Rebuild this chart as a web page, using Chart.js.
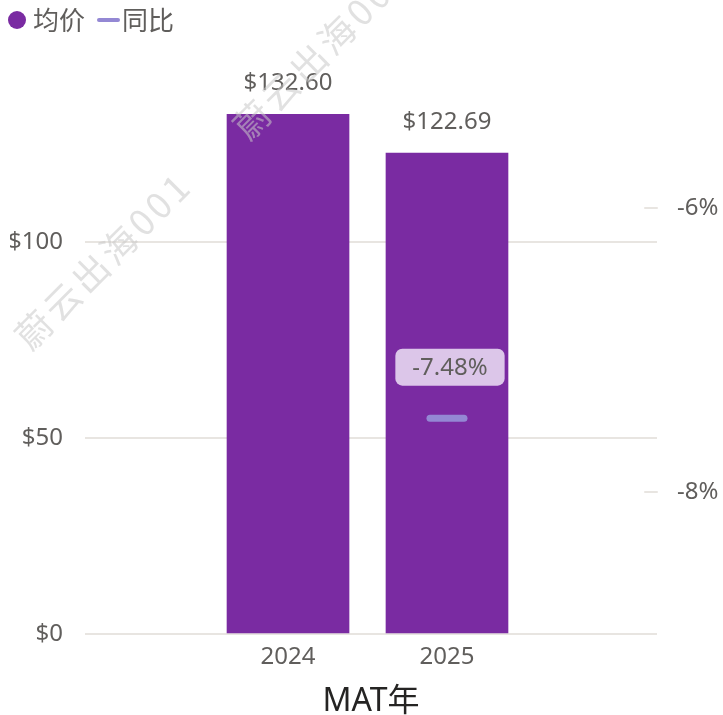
<!DOCTYPE html>
<html>
<head>
<meta charset="utf-8">
<script src="https://cdn.jsdelivr.net/npm/chart.js@4.4.0/dist/chart.umd.min.js"></script>
<style>
  html, body { margin: 0; padding: 0; background: #fff; }
  #wrap { position: relative; width: 723px; height: 715px; font-family: "Noto Sans", "Noto Sans CJK SC", sans-serif; }
  #Chart1 { position: absolute; left: 0; top: 0; }
  #legend { position: absolute; left: 0; top: 0; height: 40px; line-height: 40px; font-size: 26px; color: #605e5c; white-space: nowrap; }
  #legend span { position: absolute; top: 0; }
  .dot { width: 18px; height: 18px; border-radius: 50%; background: #7a2ba2; top: 11px !important; }
  .dash { width: 23px; height: 4px; border-radius: 2px; background: #9488d4; top: 18px !important; }
</style>
</head>
<body>
<div id="wrap">
  <canvas id="Chart1" width="723" height="715"></canvas>
  <div id="legend">
    <span class="dot" style="left:8px"></span><span style="left:33px">均价</span>
    <span class="dash" style="left:97px"></span><span style="left:122px">同比</span>
  </div>
</div>
<script>
// data
const years = [2024, 2025];
const avgPrice = [132.60, 122.69];
const yoyYears = [2025];
const yoyValues = [-7.48];
const priceTicks = [0, 50, 100];
const yoyTicks = [-8, -6];

const textGray = '#605e5c';
const gridColor = '#e8e5e1';

// label harga di atas bar + label persen di atas titik
const labelPlugin = {
  id: 'labels',
  afterDatasetsDraw(chart) {
    const ctx = chart.ctx;
    ctx.save();
    ctx.font = '24px "Noto Sans", sans-serif';
    ctx.textAlign = 'center';
    ctx.textBaseline = 'middle';
    chart.getDatasetMeta(0).data.forEach((bar, i) => {
      ctx.fillStyle = textGray;
      ctx.fillText('$' + avgPrice[i].toFixed(2), bar.x, bar.y - 31);
    });
    chart.getDatasetMeta(1).data.forEach((pt, i) => {
      const txt = yoyValues[i].toFixed(2) + '%';
      const w = ctx.measureText(txt).width + 34;
      const h = 37;
      const cx = pt.x + 3, cy = pt.y - 51;
      ctx.fillStyle = '#dcc6e9';
      ctx.beginPath();
      ctx.roundRect(cx - w / 2, cy - h / 2, w, h, 7);
      ctx.fill();
      ctx.fillStyle = textGray;
      ctx.fillText(txt, cx, cy + 1);
    });
    ctx.restore();
  }
};

// tanda kecil untuk sumbu kanan
const rightTickPlugin = {
  id: 'rightTicks',
  afterDraw(chart) {
    const ctx = chart.ctx;
    const s = chart.scales.y1;
    ctx.save();
    ctx.strokeStyle = gridColor;
    ctx.lineWidth = 2;
    s.ticks.forEach(t => {
      const y = Math.round(s.getPixelForValue(t.value));
      ctx.beginPath();
      ctx.moveTo(chart.chartArea.right - 12, y);
      ctx.lineTo(chart.chartArea.right, y);
      ctx.stroke();
    });
    ctx.restore();
  }
};

// watermark
const watermarkPlugin = {
  id: 'watermark',
  afterDraw(chart) {
    const ctx = chart.ctx;
    ctx.save();
    ctx.font = '36px "Noto Sans CJK SC", sans-serif';
    ctx.letterSpacing = '4px';
    ctx.fillStyle = 'rgba(200,200,200,0.55)';
    [[31, 352], [249, 142]].forEach(p => {
      ctx.save();
      ctx.translate(p[0], p[1]);
      ctx.rotate(-Math.PI / 4);
      ctx.fillText('蔚云出海001', 0, 0);
      ctx.restore();
    });
    ctx.restore();
  }
};

const capPlugin = {
  id: 'cap',
  beforeDatasetDraw(chart, args) {
    if (args.index === 1) chart.ctx.lineCap = 'round';
  }
};

function renderChart() {
  const ctx = document.getElementById('Chart1').getContext('2d');
  new Chart(ctx, {
    data: {
      datasets: [
        {
          type: 'bar',
          label: '均价',
          data: years.map((y, i) => ({ x: y, y: avgPrice[i] })),
          backgroundColor: '#7a2ba2',
          barThickness: 122,
          yAxisID: 'y',
          order: 2
        },
        {
          type: 'line',
          label: '同比',
          data: yoyYears.map((y, i) => ({ x: y, y: yoyValues[i] })),
          showLine: false,
          pointStyle: 'line',
          pointRadius: 17,
          pointHoverRadius: 17,
          pointBorderWidth: 7,
          borderColor: '#9488d4',
          backgroundColor: '#9488d4',
          yAxisID: 'y1',
          order: 1
        }
      ]
    },
    options: {
      responsive: false,
      animation: false,
      layout: { padding: { top: 46, left: 10, right: 3, bottom: 0 } },
      plugins: { legend: { display: false }, tooltip: { enabled: false } },
      scales: {
        x: {
          type: 'linear',
          offset: false,
          min: 2022.723,
          max: 2026.321,
          afterBuildTicks: s => { s.ticks = years.map(v => ({ value: v })); },
          afterFit: s => { s.paddingLeft = 0; s.paddingRight = 0; s.height = 81; },
          grid: { display: false, drawTicks: false },
          border: { display: false },
          ticks: {
            color: textGray,
            font: { size: 24, family: '"Noto Sans", sans-serif' },
            padding: 9,
            callback: v => String(v)
          },
          title: {
            display: true,
            text: 'MAT年',
            color: '#252423',
            font: { size: 32, family: '"Noto Sans", "Noto Sans CJK SC", sans-serif' },
            padding: { top: 0, bottom: -6 }
          }
        },
        y: {
          position: 'left',
          min: 0,
          max: 150,
          afterBuildTicks: s => { s.ticks = priceTicks.map(v => ({ value: v })); },
          afterFit: s => { s.paddingTop = 0; s.paddingBottom = 0; s.width = 75; },
          grid: { color: gridColor, lineWidth: 2, drawTicks: false },
          border: { display: false },
          ticks: {
            color: textGray,
            font: { size: 24, family: '"Noto Sans", sans-serif' },
            padding: 22,
            callback: v => '$' + v
          }
        },
        y1: {
          position: 'right',
          min: -9,
          max: -4.859,
          afterBuildTicks: s => { s.ticks = yoyTicks.map(v => ({ value: v })); },
          afterFit: s => { s.paddingTop = 0; s.paddingBottom = 0; s.width = 63; },
          grid: { display: false, drawOnChartArea: false, drawTicks: false },
          border: { display: false },
          ticks: {
            color: textGray,
            font: { size: 24, family: '"Noto Sans", sans-serif' },
            padding: 20,
            callback: v => v + '%'
          }
        }
      }
    },
    plugins: [labelPlugin, rightTickPlugin, watermarkPlugin, capPlugin]
  });
}

document.addEventListener('DOMContentLoaded', renderChart);
</script>
</body>
</html>
